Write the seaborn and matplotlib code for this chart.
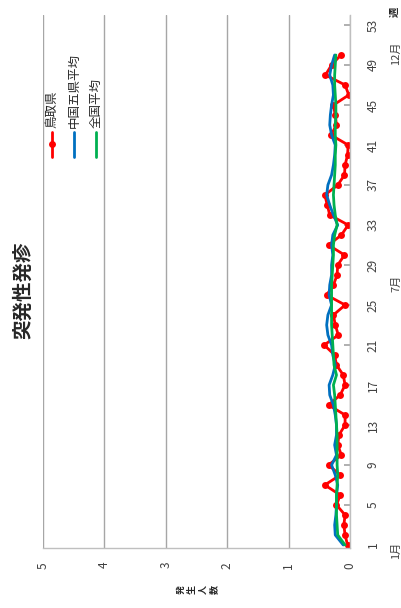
import numpy as np
import pandas as pd
import seaborn as sns
import matplotlib.pyplot as plt
from matplotlib.lines import Line2D

# weekly reports per sentinel, 2019 (weeks 1-50)
weeks = list(range(1, 51))
tottori = [0.04, 0.08, 0.10, 0.08, 0.22, 0.16, 0.41, 0.16, 0.35, 0.14,
           0.20, 0.18, 0.08, 0.08, 0.35, 0.16, 0.08, 0.11, 0.22, 0.25,
           0.42, 0.19, 0.24, 0.27, 0.08, 0.38, 0.27, 0.21, 0.20, 0.09,
           0.35, 0.14, 0.03, 0.33, 0.37, 0.41, 0.20, 0.09, 0.08, 0.04,
           0.03, 0.31, 0.22, 0.24, 0.27, 0.02, 0.08, 0.40, 0.30, 0.15]
chugoku = [0.11, 0.24, 0.25, 0.23, 0.22, 0.22, 0.20, 0.24, 0.30, 0.22,
           0.25, 0.22, 0.22, 0.24, 0.27, 0.33, 0.34, 0.28, 0.24, 0.28,
           0.30, 0.36, 0.38, 0.36, 0.30, 0.34, 0.33, 0.30, 0.30, 0.28,
           0.30, 0.28, 0.20, 0.27, 0.33, 0.38, 0.36, 0.30, 0.27, 0.25,
           0.24, 0.30, 0.33, 0.32, 0.30, 0.27, 0.28, 0.33, 0.30, 0.25]
zenkoku = [0.08, 0.20, 0.21, 0.22, 0.22, 0.22, 0.21, 0.20, 0.21, 0.21,
           0.21, 0.21, 0.22, 0.23, 0.24, 0.25, 0.27, 0.22, 0.26, 0.27,
           0.28, 0.29, 0.30, 0.30, 0.30, 0.30, 0.30, 0.29, 0.28, 0.27,
           0.27, 0.25, 0.21, 0.24, 0.26, 0.27, 0.26, 0.25, 0.24, 0.24,
           0.23, 0.24, 0.24, 0.23, 0.23, 0.24, 0.25, 0.25, 0.24, 0.23]
names = ['鳥取県', '中国五県平均', '全国平均']
colors = ['#FF0000', '#0070C0', '#00B050']
week_ticks = list(range(1, 54, 4))
value_ticks = [0, 1, 2, 3, 4, 5]
months = ['1月', '7月', '12月']
month_pos = [0.5, 27.2, 50.2]

df = pd.DataFrame({'week': weeks, names[0]: tottori, names[1]: chugoku, names[2]: zenkoku})

sns.set_theme(style='white')
plt.rcParams['font.family'] = ['Noto Sans CJK JP', 'DejaVu Sans']

W, H = 402, 608
fig = plt.figure(figsize=(W / 100, H / 100), dpi=100)
ax = fig.add_axes([43 / W, 1 - 548 / H, 307 / W, 533 / H])

# chart is drawn turned on its side: value runs right-to-left, week bottom-to-top
sns.lineplot(data=df, x=names[0], y='week', orient='y', ax=ax, color=colors[0],
             lw=2, marker='o', markersize=5, markeredgewidth=0)
sns.lineplot(data=df, x=names[1], y='week', orient='y', ax=ax, color=colors[1], lw=2)
sns.lineplot(data=df, x=names[2], y='week', orient='y', ax=ax, color=colors[2], lw=2)

ax.set_xlim(5, 0)
ax.set_ylim(0.7, 54)
ax.set_xticks(value_ticks)
ax.set_yticks(week_ticks)
ax.set_xlabel('')
ax.set_ylabel('')
ax.grid(axis='x', color='#A6A6A6', lw=1)
ax.grid(axis='y', visible=False)
for s in ['top', 'left']:
    ax.spines[s].set_visible(False)
for s in ['bottom', 'right']:
    ax.spines[s].set_color('#BFBFBF')
    ax.spines[s].set_linewidth(1)
ax.yaxis.tick_right()
ax.tick_params(axis='y', direction='in', length=4, color='#A6A6A6', right=True, left=False,
               labelrotation=90, labelsize=8.5, labelcolor='#404040', pad=12)
ax.tick_params(axis='x', length=0, labelrotation=90, labelsize=8.5, labelcolor='#404040', pad=10)
for lab in ax.get_yticklabels():
    lab.set_va('center')

# month labels and unit
tr = ax.get_yaxis_transform()
xm = (396 - 43) / 307
for m, p in zip(months, month_pos):
    ax.text(xm, p, m, transform=tr, rotation=90, ha='center', va='center', fontsize=8,
            color='#404040', clip_on=False)
ax.text((395 - 43) / 307, 54.3, '週', transform=tr, rotation=90, ha='center', va='center',
        fontsize=7.5, fontweight='bold', clip_on=False)

# title and axis title
fig.text(24 / W, 1 - 290 / H, '突発性発疹', rotation=90, ha='center', va='center',
         fontsize=14, fontweight='bold')
fig.text(198 / W, 1 - 590 / H, '発\n生\n人\n数', rotation=90, ha='center', va='center',
         fontsize=6.5, fontweight='bold', linespacing=1.3)

# legend
for i, (n, c) in enumerate(zip(names, colors)):
    xx = (52 + 22 * i) / W
    fig.add_artist(Line2D([xx, xx], [1 - 157 / H, 1 - 132 / H], color=c, lw=2,
                          transform=fig.transFigure))
    if i == 0:
        fig.add_artist(Line2D([xx], [1 - 144 / H], color=c, marker='o', markersize=5,
                              markeredgewidth=0, transform=fig.transFigure))
    fig.text(xx, 1 - 128 / H, n, rotation=90, ha='center', va='bottom', fontsize=9)

fig.savefig('out.png', dpi=100)
